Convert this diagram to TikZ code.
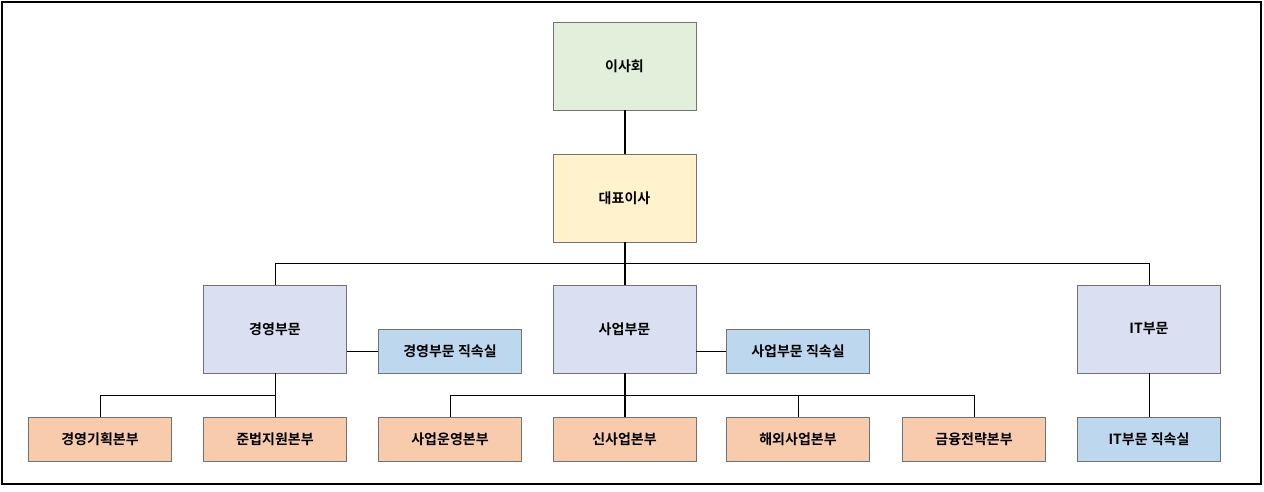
\documentclass[tikz,border=0pt]{standalone}
\usepackage{fontspec}
\setmainfont{Noto Sans CJK KR}[BoldFont={Noto Sans CJK KR Bold}]
\usetikzlibrary{positioning}
\definecolor{boardgreen}{HTML}{E2EFDA}
\definecolor{ceoyellow}{HTML}{FFF2CC}
\definecolor{divlilac}{HTML}{DAE0F2}
\definecolor{officeblue}{HTML}{BDD7EE}
\definecolor{hqpeach}{HTML}{F8CBAD}

\begin{document}
\begin{tikzpicture}[x=1pt, y=-1pt,
bigbox/.style = {draw = black!55, minimum width = 143pt, minimum height = 88pt, inner sep = 0pt, font = \fontsize{14}{16}\selectfont\bfseries},
smallbox/.style = {draw = black!55, minimum width = 143pt, minimum height = 44pt, inner sep = 0pt, font = \fontsize{14}{16}\selectfont\bfseries},
board/.style = {bigbox, fill = boardgreen},
ceo/.style = {bigbox, fill = ceoyellow},
division/.style = {bigbox, fill = divlilac},
office/.style = {smallbox, fill = officeblue},
hq/.style = {smallbox, fill = hqpeach},
link/.style = {draw = black, line width = 0.8pt},
trunk/.style = {draw = black, line width = 2pt},
]
\useasboundingbox (0,0) rectangle (1264,492);
\draw[line width=1.2pt] (2,2) rectangle (1261,484);

\node[board] (B) at (624.5, 66) {이사회};
\node[ceo] (C) at (624.5, 198) {대표이사};

\node[division] (M) at (275, 329) {경영부문};
\node[division] (S) at (624.5, 329) {사업부문};
\node[division] (T) at (1149, 329) {IT부문};

\node[office] (MO) at (450, 351) {경영부문 직속실};
\node[office] (SO) at (798, 351) {사업부문 직속실};

\node[hq] (M1) at (100, 439) {경영기획본부};
\node[hq] (M2) at (275, 439) {준법지원본부};
\node[hq] (S1) at (450, 439) {사업운영본부};
\node[hq] (S2) at (624.5, 439) {신사업본부};
\node[hq] (S3) at (798, 439) {해외사업본부};
\node[hq] (S4) at (974, 439) {금융전략본부};
\node[office] (TO) at (1149, 439) {IT부문 직속실};

\coordinate (bus) at (624.5, 263);
\coordinate (mbus) at (275, 395);
\coordinate (sbus) at (624.5, 395);

\path[trunk] (B) -- (C);
\path[trunk] (C) -- (S);
\path[trunk] (S) -- (S2);
\path[link] (bus) -| (M);
\path[link] (bus) -| (T);
\path[link] (M) -- (mbus);
\path[link] (mbus) -| (M1);
\path[link] (mbus) -- (M2);
\path[link] (sbus) -| (S1);
\path[link] (sbus) -| (S3);
\path[link] (sbus) -| (S4);
\path[link] (M.east |- MO) -- (MO);
\path[link] (S.east |- SO) -- (SO);
\path[link] (T) -- (TO);
\end{tikzpicture}
\end{document}
